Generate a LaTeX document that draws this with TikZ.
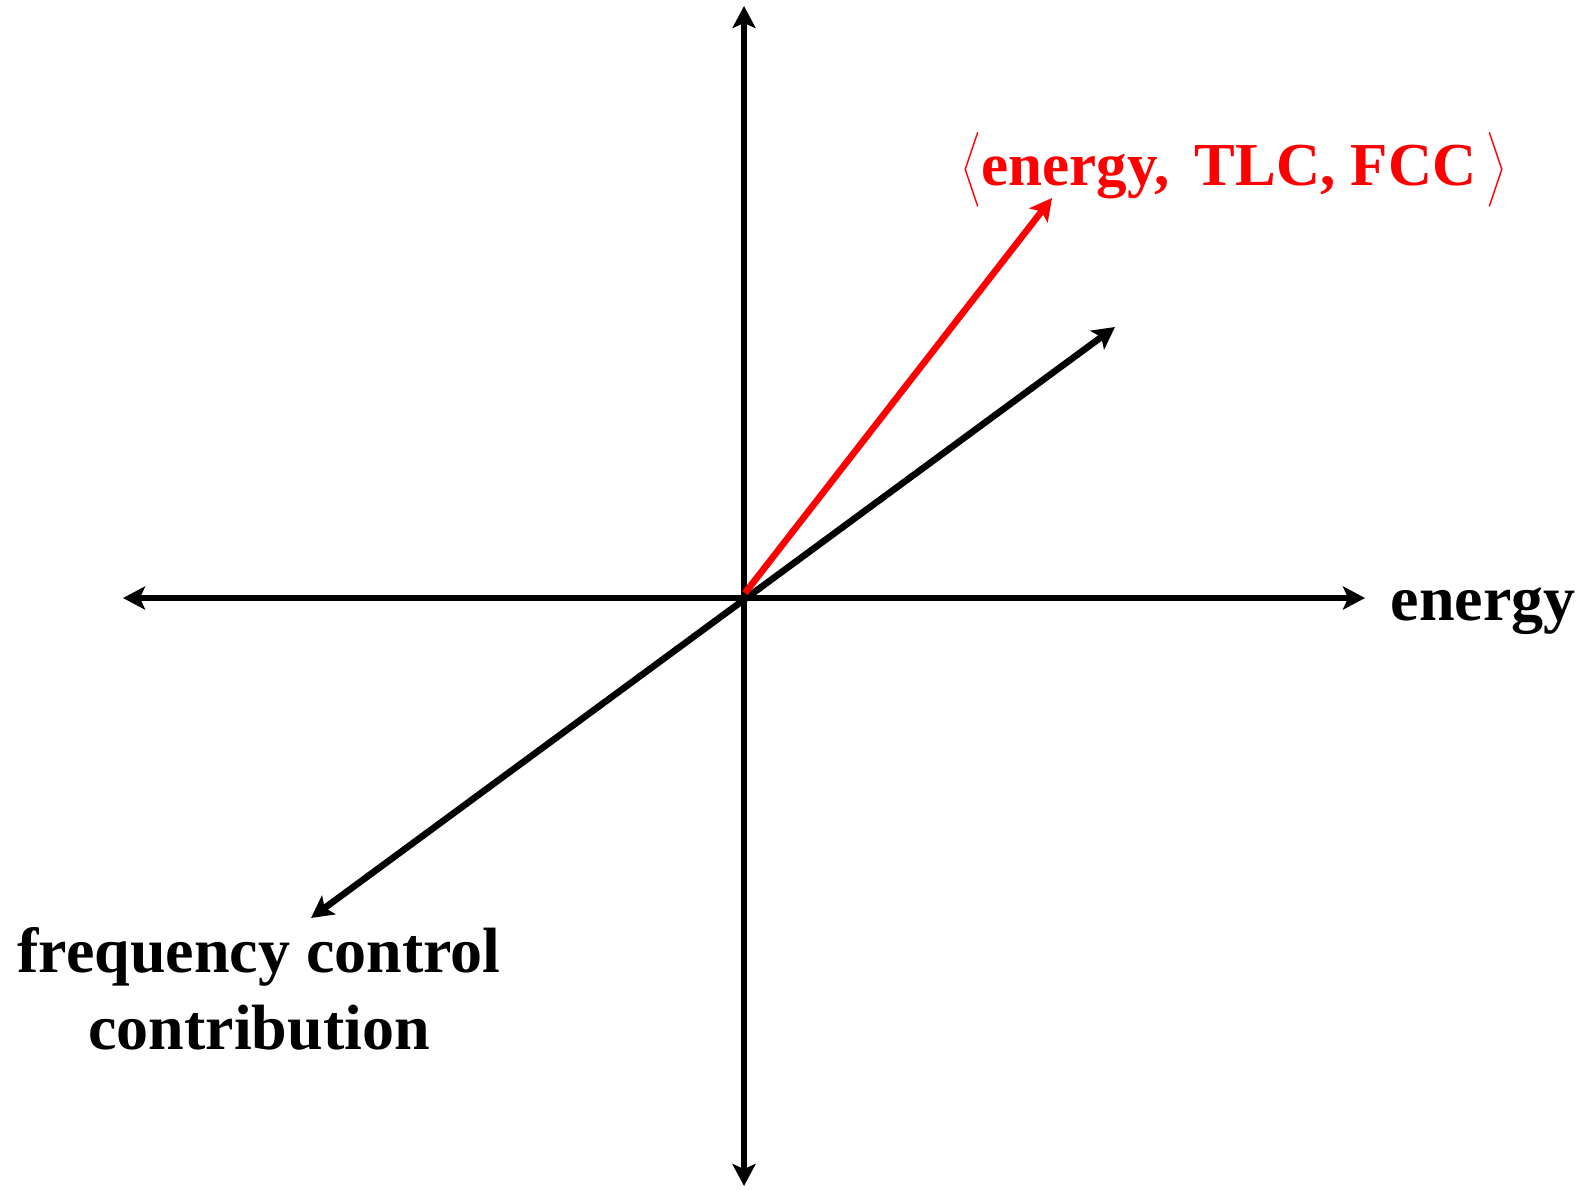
\RequirePackage{fix-cm}
\documentclass[tikz,border=0pt]{standalone}
\usepackage{amsmath}
\usepackage{fontspec}
\setmainfont{Liberation Serif}
\usetikzlibrary{arrows.meta}
\tikzset{
  axis/.style={line width=6.6pt, {Stealth[length=22pt,width=23pt,inset=5pt]}-{Stealth[length=22pt,width=23pt,inset=5pt]}},
  vec/.style={line width=6.6pt, -{Stealth[length=22pt,width=23pt,inset=5pt]}},
  lbl/.style={font=\bfseries\fontsize{64}{77}\selectfont, inner sep=0pt, anchor=base},
}
\begin{document}
\begin{tikzpicture}[x=1pt,y=-1pt]
\useasboundingbox (0,0) rectangle (1589,1189);
\coordinate (O) at (744,598);
\coordinate (top) at (744,6);
\coordinate (bot) at (744,1186);
\coordinate (lft) at (123,598);
\coordinate (rgt) at (1365,598);
\coordinate (dup) at (1115,327);
\coordinate (ddn) at (311,918);
\coordinate (rs) at (745,593);
\coordinate (re) at (1052,198);
\draw[axis] (bot) -- (top);
\draw[axis] (lft) -- (rgt);
\draw[axis] (ddn) -- (dup);
\draw[vec, red] (rs) -- (re);
\node[lbl] (en) at (1483,620) {energy};
\node[lbl, align=center, anchor=base] (fc) at (259,1049) {frequency control\\contribution};
\node[lbl, text=red, font=\bfseries\fontsize{61}{72}\selectfont] (vec) at (1234,185) {$\big\langle$energy,\hspace{10pt} TLC, FCC\,$\big\rangle$};
\end{tikzpicture}
\end{document}
